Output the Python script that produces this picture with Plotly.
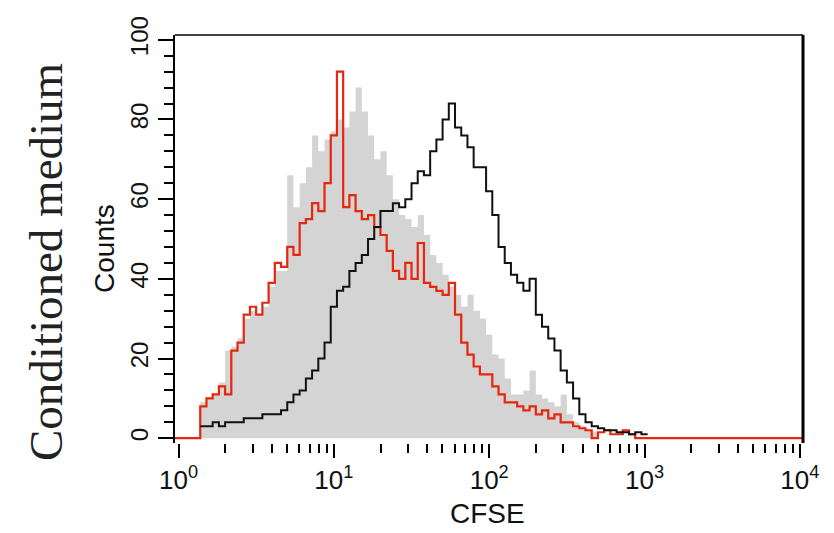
import plotly.graph_objects as go

# ---------------- data ----------------
# CFSE histogram channels: log10 bins, first bin starts at 10**LOG_START
LOG_START = -0.06
LOG_STEP = 0.04
N_BINS = 103

# counts per channel, beginning at channel index LEAD (CFSE ~1.38)
LEAD = 5
gray_counts = [
    9, 10, 11, 14, 22, 23, 25, 30, 32, 31,
    33, 38, 42, 42, 66, 58, 64, 68, 76, 72,
    75, 77, 80, 78, 82, 88, 82, 76, 70, 72,
    66, 60, 56, 55, 53, 56, 51, 46, 44, 41,
    38, 36, 33, 36, 32, 30, 26, 21, 20, 15,
    11, 11, 12, 17, 11, 10, 9, 8, 11, 6,
    4, 3, 2, 1.5,
]
red_counts = [
    8, 10, 11, 13, 11, 22, 24, 31, 33, 31,
    34, 39, 44, 43, 48, 46, 54, 55, 59, 57,
    64, 76, 92, 58, 61, 57, 55, 56, 53, 51,
    47, 42, 40, 44, 40, 49, 39, 38, 37, 36,
    39, 31, 24, 21, 18, 16, 16, 13, 11, 9,
    9, 8, 7, 8, 6, 7, 5, 6, 4, 4,
    3, 2.5, 2, 0, 1.5, 2, 1, 1, 2, 1,
]
black_counts = [
    3, 3, 4, 3, 4, 4, 4, 5, 5, 5,
    6, 6, 6, 7, 9, 11, 12, 15, 17, 20,
    24, 33, 37, 38, 42, 44, 46, 50, 53, 57,
    57, 59, 58, 60, 64, 67, 66, 72, 75, 80,
    84, 78, 76, 73, 68, 68, 62, 56, 48, 44,
    41, 39, 37, 40, 31, 28, 25, 22, 17, 14,
    10, 6, 4, 3, 2.5, 2, 2, 1.5, 1.5, 1,
    1.5, 1,
]

X_TICK_VALUES = [1, 10, 100, 1000, 10000]
X_TICK_TEXT = ["10<sup>0</sup>", "10<sup>1</sup>", "10<sup>2</sup>", "10<sup>3</sup>", "10<sup>4</sup>"]
Y_TICK_VALUES = [0, 20, 40, 60, 80, 100]
Y_TICK_TEXT = ["0", "20", "40", "60", "80", "100"]

X_TITLE = "CFSE"
Y_TITLE = "Counts"
ROW_LABEL = "Conditioned medium"

# ---------------- helpers ----------------
edges = [10 ** (LOG_START + LOG_STEP * i) for i in range(N_BINS + 1)]


def padded(counts):
    return [0] * LEAD + list(counts) + [0] * (N_BINS - LEAD - len(counts))


def step_xy(counts, lo, hi):
    xs = edges[lo:hi + 1]
    ys = list(counts[lo:hi]) + [counts[hi - 1]]
    return xs, ys


gray_full = padded(gray_counts)
red_full = padded(red_counts)
black_full = padded(black_counts)

fig = go.Figure()

gx, gy = step_xy(gray_full, LEAD, LEAD + len(gray_counts))
fig.add_trace(go.Scatter(
    x=gx, y=gy, mode="lines", line=dict(width=0, shape="hv", color="#d4d4d4"),
    fill="tozeroy", fillcolor="#d4d4d4", hoverinfo="skip"))

rx, ry = step_xy(red_full, 0, N_BINS)
fig.add_trace(go.Scatter(
    x=rx, y=ry, mode="lines", line=dict(width=2.2, shape="hv", color="#e6260d")))

bx, by = step_xy(black_full, LEAD, LEAD + len(black_counts))
fig.add_trace(go.Scatter(
    x=bx, y=by, mode="lines", line=dict(width=2, shape="hv", color="#111111")))

y_tick_font = dict(family="Liberation Sans, Arial, sans-serif", size=24, color="#111111")
x_tick_font = dict(family="Liberation Sans, Arial, sans-serif", size=26, color="#111111")

fig.update_layout(
    width=834, height=533, autosize=False,
    margin=dict(l=175, r=31, t=35, b=90, pad=0),
    plot_bgcolor="white", paper_bgcolor="white", showlegend=False,
    xaxis=dict(
        type="log", range=[-0.0225, 4.02],
        tickmode="array", tickvals=X_TICK_VALUES, ticktext=X_TICK_TEXT,
        ticks="outside", ticklen=14, tickwidth=2, tickcolor="black",
        showline=False, showgrid=False, zeroline=False,
        tickfont=x_tick_font,
        minor=dict(ticks="outside", ticklen=9, tickwidth=2, tickcolor="black",
                   dtick="D1", showgrid=False),
    ),
    yaxis=dict(
        range=[-1.2, 101.2],
        tickmode="array", tickvals=Y_TICK_VALUES, ticktext=Y_TICK_TEXT,
        ticks="outside", ticklen=15, tickwidth=2, tickcolor="black",
        showline=True, linewidth=2, linecolor="black",
        showgrid=False, zeroline=False, tickangle=-90,
        tickfont=y_tick_font,
        minor=dict(ticks="outside", ticklen=9, tickwidth=2, tickcolor="black",
                   tickmode="linear", tick0=0, dtick=4, showgrid=False),
    ),
)

# frame: top and right borders
fig.add_shape(type="line", xref="paper", yref="paper", x0=0, x1=1, y0=1, y1=1,
              line=dict(color="black", width=1.5))
fig.add_shape(type="line", xref="paper", yref="paper", x0=1, x1=1, y0=0, y1=1,
              line=dict(color="black", width=3))

fig.add_annotation(text=X_TITLE, xref="paper", yref="paper", x=0.497, y=-0.174,
                   showarrow=False, xanchor="center", yanchor="middle",
                   font=dict(family="Liberation Sans, Arial, sans-serif", size=28, color="#111111"))
fig.add_annotation(text=Y_TITLE, xref="paper", yref="paper", x=-0.1115, y=0.478,
                   showarrow=False, xanchor="center", yanchor="middle", textangle=-90,
                   font=dict(family="Liberation Sans, Arial, sans-serif", size=28, color="#111111"))
fig.add_annotation(text=ROW_LABEL, xref="paper", yref="paper", x=-0.2054, y=0.4436,
                   showarrow=False, xanchor="center", yanchor="middle", textangle=-90,
                   font=dict(family="Liberation Serif, Times New Roman, serif", size=47, color="#222222"))

fig.write_html("out.html")
